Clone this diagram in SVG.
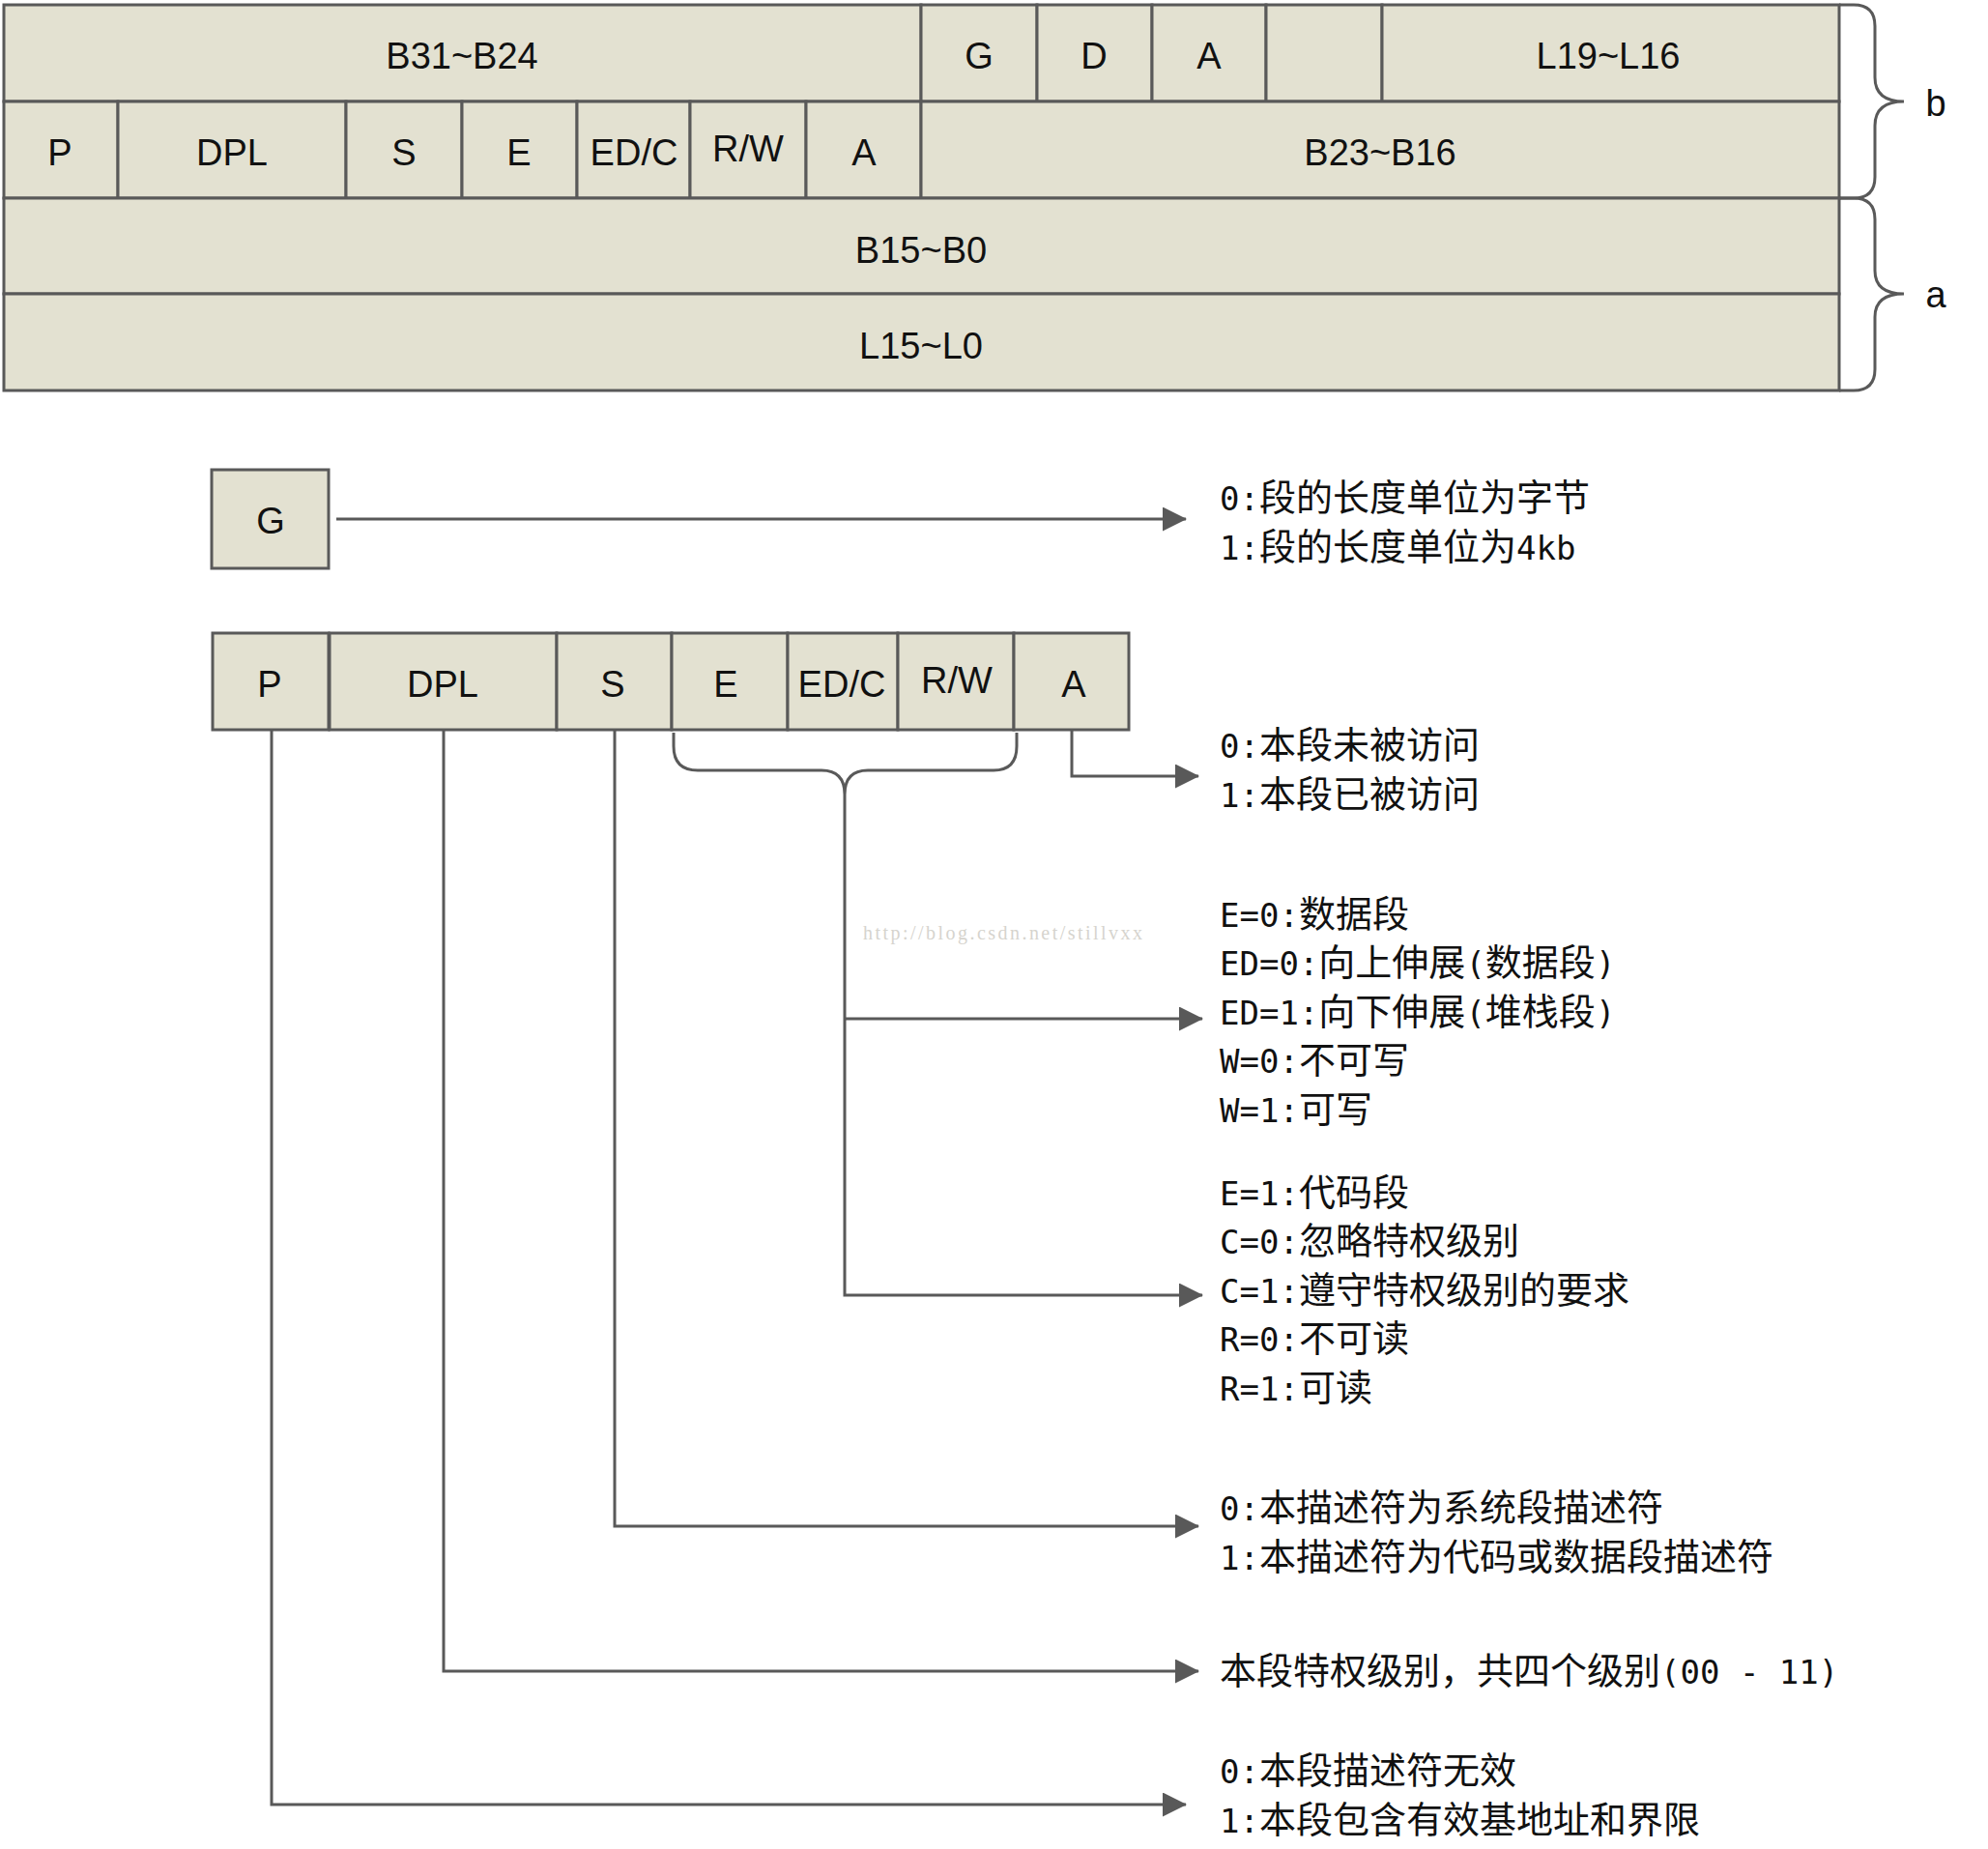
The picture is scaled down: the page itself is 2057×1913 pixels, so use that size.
<svg xmlns="http://www.w3.org/2000/svg" width="2057" height="1913" viewBox="0 0 2057 1913">
<style>
.c{fill:#E3E1D1;stroke:#595959;stroke-width:3}
.l{font-family:"Liberation Sans",Arial,sans-serif;font-size:38px;fill:#111;text-anchor:middle}
.t{font-family:"Noto Sans CJK SC",sans-serif;font-size:38px;fill:#111}
.m{font-family:"DejaVu Sans Mono",monospace;font-size:34px}
.w{stroke:#595959;stroke-width:3;fill:none}
.a{stroke:#595959;stroke-width:3;fill:none;marker-end:url(#ah)}
.wm{font-family:"Liberation Serif",serif;font-size:20px;fill:#D6D4CE}
</style>
<defs>
<marker id="ah" markerUnits="userSpaceOnUse" markerWidth="25" markerHeight="25" viewBox="0 0 25 25" refX="24" refY="12.5" orient="auto">
<path d="M0,0 L25,12.5 L0,25 Z" fill="#595959"/>
</marker>
</defs>
<rect width="2057" height="1913" fill="#fff"/>
<g id="descriptor">
<g id="t-b31"><rect class="c" x="4" y="5" width="949" height="100"/><text class="l" x="478" y="71">B31~B24</text></g>
<g id="t-g"><rect class="c" x="953" y="5" width="120" height="100"/><text class="l" x="1013" y="71">G</text></g>
<g id="t-d"><rect class="c" x="1073" y="5" width="119" height="100"/><text class="l" x="1132" y="71">D</text></g>
<g id="t-a1"><rect class="c" x="1192" y="5" width="118" height="100"/><text class="l" x="1251" y="71">A</text></g>
<g id="t-empty"><rect class="c" x="1310" y="5" width="120" height="100"/></g>
<g id="t-l19"><rect class="c" x="1430" y="5" width="473" height="100"/><text class="l" x="1664" y="71">L19~L16</text></g>
<g id="t-p"><rect class="c" x="4" y="105" width="118" height="100"/><text class="l" x="62" y="171">P</text></g>
<g id="t-dpl"><rect class="c" x="122" y="105" width="236" height="100"/><text class="l" x="240" y="171">DPL</text></g>
<g id="t-s"><rect class="c" x="358" y="105" width="120" height="100"/><text class="l" x="418" y="171">S</text></g>
<g id="t-e"><rect class="c" x="478" y="105" width="119" height="100"/><text class="l" x="537" y="171">E</text></g>
<g id="t-edc"><rect class="c" x="597" y="105" width="117" height="100"/><text class="l" x="656" y="171">ED/C</text></g>
<g id="t-rw"><rect class="c" x="714" y="105" width="120" height="100"/><text class="l" x="774" y="167">R/W</text></g>
<g id="t-a2"><rect class="c" x="834" y="105" width="119" height="100"/><text class="l" x="894" y="171">A</text></g>
<g id="t-b23"><rect class="c" x="953" y="105" width="950" height="100"/><text class="l" x="1428" y="171">B23~B16</text></g>
<g id="t-b15"><rect class="c" x="4" y="205" width="1899" height="99"/><text class="l" x="953" y="272">B15~B0</text></g>
<g id="t-l15"><rect class="c" x="4" y="304" width="1899" height="100"/><text class="l" x="953" y="371">L15~L0</text></g>
</g>
<g id="braces">
<path class="w" d="M1903,5 H1918 Q1940,5 1940,27 V80 Q1940,105 1970,105 Q1940,105 1940,130 V183 Q1940,205 1918,205 H1903"/>
<path class="w" d="M1903,205 H1918 Q1940,205 1940,227 V280 Q1940,304 1970,304 Q1940,304 1940,328 V382 Q1940,404 1918,404 H1903"/>
<text class="l" x="2003" y="120">b</text>
<text class="l" x="2003" y="318">a</text>
</g>
<g id="n-g"><rect class="c" x="219" y="486" width="121" height="102"/><text class="l" x="280" y="552">G</text></g>
<g id="flags">
<g id="n-p"><rect class="c" x="220" y="655" width="120" height="100"/><text class="l" x="279" y="721">P</text></g>
<g id="n-dpl"><rect class="c" x="341" y="655" width="235" height="100"/><text class="l" x="458" y="721">DPL</text></g>
<g id="n-s"><rect class="c" x="576" y="655" width="119" height="100"/><text class="l" x="634" y="721">S</text></g>
<g id="n-e"><rect class="c" x="695" y="655" width="120" height="100"/><text class="l" x="751" y="721">E</text></g>
<g id="n-edc"><rect class="c" x="815" y="655" width="114" height="100"/><text class="l" x="871" y="721">ED/C</text></g>
<g id="n-rw"><rect class="c" x="929" y="655" width="120" height="100"/><text class="l" x="990" y="717">R/W</text></g>
<g id="n-a"><rect class="c" x="1049" y="655" width="119" height="100"/><text class="l" x="1111" y="721">A</text></g>
</g>
<g id="connectors">
<path class="a" d="M348,537 H1227"/>
<path class="a" d="M1109,755 V803 H1240"/>
<path class="w" d="M697,758 V772 Q697,797 722,797 H850 Q874,797 874,822 Q874,797 898,797 H1028 Q1052,797 1052,772 V758"/>
<path class="a" d="M874,822 V1340 H1244"/>
<path class="a" d="M874,1054 H1244"/>
<path class="a" d="M636,755 V1579 H1240"/>
<path class="a" d="M459,755 V1729 H1240"/>
<path class="a" d="M281,755 V1867 H1227"/>
</g>
<text class="wm" x="893" y="972" textLength="289">http://blog.csdn.net/stillvxx</text>
<g id="desc-g">
<text class="t" x="1262" y="528"><tspan class="m">0:</tspan>段的长度单位为字节</text>
<text class="t" x="1262" y="579"><tspan class="m">1:</tspan>段的长度单位为<tspan class="m">4kb</tspan></text>
</g>
<g id="desc-a">
<text class="t" x="1262" y="784"><tspan class="m">0:</tspan>本段未被访问</text>
<text class="t" x="1262" y="835"><tspan class="m">1:</tspan>本段已被访问</text>
</g>
<g id="desc-data">
<text class="t" x="1262" y="959"><tspan class="m">E=0:</tspan>数据段</text>
<text class="t" x="1262" y="1009"><tspan class="m">ED=0:</tspan>向上伸展<tspan class="m">(</tspan>数据段<tspan class="m">)</tspan></text>
<text class="t" x="1262" y="1060"><tspan class="m">ED=1:</tspan>向下伸展<tspan class="m">(</tspan>堆栈段<tspan class="m">)</tspan></text>
<text class="t" x="1262" y="1110"><tspan class="m">W=0:</tspan>不可写</text>
<text class="t" x="1262" y="1161"><tspan class="m">W=1:</tspan>可写</text>
</g>
<g id="desc-code">
<text class="t" x="1262" y="1247"><tspan class="m">E=1:</tspan>代码段</text>
<text class="t" x="1262" y="1297"><tspan class="m">C=0:</tspan>忽略特权级别</text>
<text class="t" x="1262" y="1348"><tspan class="m">C=1:</tspan>遵守特权级别的要求</text>
<text class="t" x="1262" y="1398"><tspan class="m">R=0:</tspan>不可读</text>
<text class="t" x="1262" y="1449"><tspan class="m">R=1:</tspan>可读</text>
</g>
<g id="desc-s">
<text class="t" x="1262" y="1573"><tspan class="m">0:</tspan>本描述符为系统段描述符</text>
<text class="t" x="1262" y="1624"><tspan class="m">1:</tspan>本描述符为代码或数据段描述符</text>
</g>
<g id="desc-dpl">
<text class="t" x="1262" y="1742">本段特权级别，共四个级别<tspan class="m">(00 - 11)</tspan></text>
</g>
<g id="desc-p">
<text class="t" x="1262" y="1845"><tspan class="m">0:</tspan>本段描述符无效</text>
<text class="t" x="1262" y="1896"><tspan class="m">1:</tspan>本段包含有效基地址和界限</text>
</g>
</svg>
